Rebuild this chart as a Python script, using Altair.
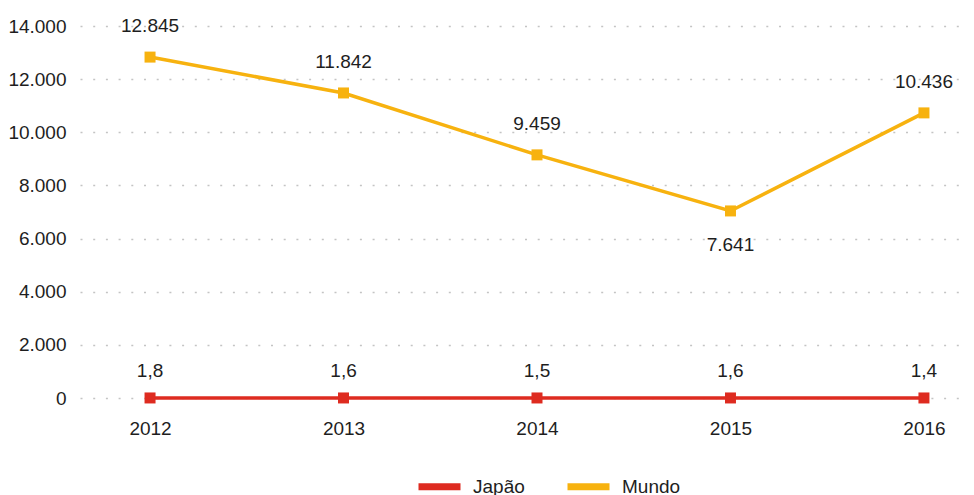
import altair as alt
import pandas as pd

years = [2012, 2013, 2014, 2015, 2016]
japao_values = [1.8, 1.6, 1.5, 1.6, 1.4]
japao_labels = ["1,8", "1,6", "1,5", "1,6", "1,4"]
mundo_values = [12830, 11480, 9150, 7040, 10730]
mundo_labels = ["12.845", "11.842", "9.459", "7.641", "10.436"]
mundo_label_pos = ["above", "above", "above", "below", "above"]
series_names = ["Japão", "Mundo"]
series_colors = ["#DE2B20", "#F7B20F"]
y_ticks = [0, 2000, 4000, 6000, 8000, 10000, 12000, 14000]

rows = []
for i, yr in enumerate(years):
    rows.append({"ano": yr, "valor": japao_values[i], "serie": "Japão",
                 "rotulo": japao_labels[i], "pos": "above"})
for i, yr in enumerate(years):
    rows.append({"ano": yr, "valor": mundo_values[i], "serie": "Mundo",
                 "rotulo": mundo_labels[i], "pos": mundo_label_pos[i]})
df = pd.DataFrame(rows)

FONT = "Liberation Sans"
FS = 19

x = alt.X("ano:Q", scale=alt.Scale(domain=[2011.638, 2016.207], nice=False, zero=False),
          axis=alt.Axis(values=years, format="d", title=None, grid=False, domain=False,
                        ticks=False, labelPadding=21, labelFontSize=FS, labelFont=FONT,
                        labelColor="#1e1e1e"))
y = alt.Y("valor:Q", scale=alt.Scale(domain=[0, 14000], nice=False),
          axis=alt.Axis(values=y_ticks, title=None, domain=False, ticks=False,
                        labelPadding=14, labelFontSize=FS, labelFont=FONT,
                        labelColor="#1e1e1e",
                        labelExpr="replace(format(datum.value, ',d'), ',', '.')",
                        grid=True, gridColor="#c4c4c4", gridWidth=1.5,
                        gridDash=[2, 10.7]))
color = alt.Color("serie:N", scale=alt.Scale(domain=series_names, range=series_colors),
                  legend=alt.Legend(title=None, orient="none", legendX=335, legendY=436,
                                    direction="horizontal", symbolType="stroke",
                                    symbolSize=1764, symbolStrokeWidth=7,
                                    labelFontSize=FS, labelFont=FONT, labelColor="#1e1e1e",
                                    labelOffset=9, columnPadding=28))

base = alt.Chart(df)
lines = base.mark_line(strokeWidth=3.5).encode(x=x, y=y, color=color)
points = base.mark_point(shape="square", size=121, filled=True, opacity=1).encode(
    x=x, y=y, color=alt.Color("serie:N", scale=alt.Scale(domain=series_names, range=series_colors), legend=None))

txt = dict(fontSize=FS, font=FONT, color="#1e1e1e", baseline="middle", align="center")
t_jp = base.transform_filter("datum.serie == 'Japão'").mark_text(dy=-27, **txt).encode(
    x="ano:Q", y="valor:Q", text="rotulo:N")
t_mu_up = base.transform_filter("datum.serie == 'Mundo' && datum.pos == 'above'").mark_text(dy=-31, **txt).encode(
    x="ano:Q", y="valor:Q", text="rotulo:N")
t_mu_dn = base.transform_filter("datum.serie == 'Mundo' && datum.pos == 'below'").mark_text(dy=34, **txt).encode(
    x="ano:Q", y="valor:Q", text="rotulo:N")

chart = alt.layer(lines, points, t_jp, t_mu_up, t_mu_dn).properties(
    width=884, height=372,
    background="white",
    autosize=alt.AutoSizeParams(type="none"),
    padding={"left": 72, "top": 18, "right": 2, "bottom": 97},
).configure_view(stroke=None, strokeWidth=0)

chart.save("out.html", embed_options={"renderer": "svg", "actions": False})
